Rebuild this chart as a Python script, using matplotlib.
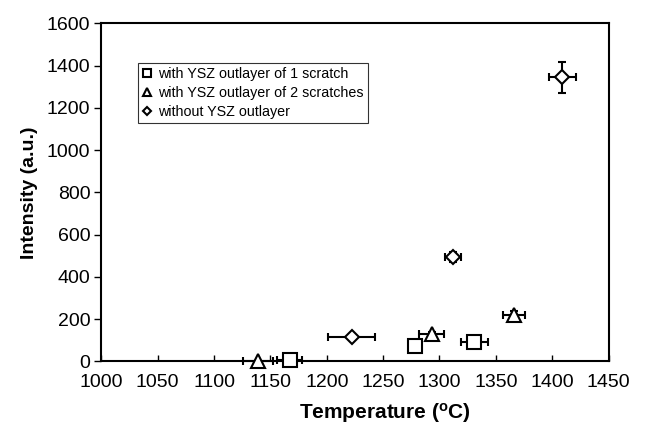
import matplotlib
matplotlib.use("Agg")
import matplotlib.pyplot as plt
from matplotlib.lines import Line2D

plt.rcParams['font.family'] = ['Liberation Sans', 'DejaVu Sans']
plt.rcParams['mathtext.fontset'] = 'custom'
plt.rcParams['mathtext.rm'] = 'Liberation Sans'
plt.rcParams['mathtext.bf'] = 'Liberation Sans:bold'

# Series: with YSZ outlayer of 1 scratch (squares)
sq_x = [1167, 1278, 1331]
sq_y = [5, 75, 91]
sq_xerr = [11, 3, 12]
sq_yerr = [0, 0, 0]

# Series: with YSZ outlayer of 2 scratches (triangles)
tr_x = [1139, 1293, 1366]
tr_y = [2, 128, 218]
tr_xerr = [13, 11, 10]
tr_yerr = [0, 10, 20]

# Series: without YSZ outlayer (diamonds)
di_x = [1222, 1312, 1409]
di_y = [117, 494, 1345]
di_xerr = [21, 7, 12]
di_yerr = [0, 25, 72]

labels = ['with YSZ outlayer of 1 scratch',
          'with YSZ outlayer of 2 scratches',
          'without YSZ outlayer']

x_ticks = [1000, 1050, 1100, 1150, 1200, 1250, 1300, 1350, 1400, 1450]
y_ticks = [0, 200, 400, 600, 800, 1000, 1200, 1400, 1600]

fig = plt.figure(figsize=(6.5, 4.28), dpi=100)
ax = fig.add_axes([0.156, 0.1554, 0.7802, 0.7897])

series = [
    (sq_x, sq_y, sq_xerr, sq_yerr, 's', 10.5),
    (tr_x, tr_y, tr_xerr, tr_yerr, '^', 9.5),
    (di_x, di_y, di_xerr, di_yerr, 'D', 6.8),
]
for x, y, xe, ye, m, ms in series:
    ax.errorbar(x, y, xerr=xe, yerr=ye, fmt='none', ecolor='black',
                elinewidth=1.5, capsize=3.2, capthick=1.5, zorder=2,
                clip_on=False)
    ax.plot(x, y, linestyle='none', marker=m, markersize=ms,
            markerfacecolor='white', markeredgecolor='black',
            markeredgewidth=1.5, zorder=3, clip_on=False)

ax.set_xlim(1000, 1450)
ax.set_ylim(0, 1600)
ax.set_xticks(x_ticks)
ax.set_yticks(y_ticks)
ax.tick_params(axis='x', direction='in', length=4, width=1, labelsize=14, pad=9)
ax.tick_params(axis='y', direction='out', length=5, width=1, labelsize=14, pad=3)
for s in ax.spines.values():
    s.set_linewidth(1.5)
    s.set_color('black')

ax.set_xlabel(r'Temperature ($\mathbf{^{o}}$C)', fontsize=15, fontweight='bold')
ax.xaxis.set_label_coords(0.559, -0.118)
ax.set_ylabel('Intensity (a.u.)', fontsize=14, fontweight='bold')
ax.yaxis.set_label_coords(-0.125, 0.5)

handles = [
    Line2D([], [], linestyle='none', marker='s', markersize=5.5, markerfacecolor='white',
           markeredgecolor='black', markeredgewidth=1.5),
    Line2D([], [], linestyle='none', marker='^', markersize=5.5, markerfacecolor='white',
           markeredgecolor='black', markeredgewidth=1.5),
    Line2D([], [], linestyle='none', marker='D', markersize=4.5, markerfacecolor='white',
           markeredgecolor='black', markeredgewidth=1.5),
]
leg = ax.legend(handles, labels, loc='upper left', bbox_to_anchor=(0.0726, 0.883),
                borderaxespad=0, frameon=True, fancybox=False, edgecolor='black',
                fontsize=10.3, handlelength=0.6, handletextpad=0.5, labelspacing=0.33,
                borderpad=0.3)
leg.get_frame().set_linewidth(0.8)

fig.savefig('out.png', dpi=100)
